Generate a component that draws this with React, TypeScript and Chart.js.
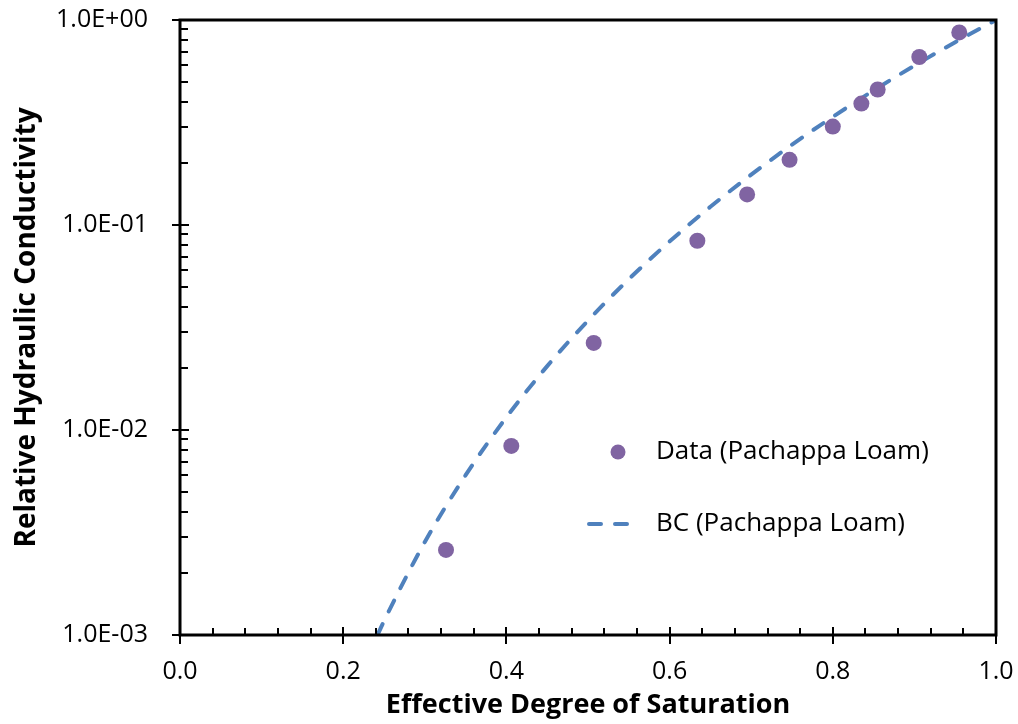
import React, { useEffect, useRef } from "react";
import { Chart, registerables } from "chart.js";

Chart.register(...registerables);

// Measured data (Pachappa Loam)
const dataSe = [0.326, 0.406, 0.507, 0.634, 0.695, 0.747, 0.8, 0.835, 0.855, 0.906, 0.955];
const dataKr = [0.0026, 0.00836, 0.0266, 0.0838, 0.141, 0.208, 0.302, 0.391, 0.458, 0.66, 0.87];

// BC curve (Pachappa Loam)
const bcSe = [0.242, 0.25, 0.3, 0.35, 0.4, 0.45, 0.5, 0.55, 0.6, 0.65, 0.7, 0.75, 0.8, 0.85, 0.9, 0.95, 1.0];
const bcKr = [0.001, 0.00117, 0.00284, 0.00602, 0.01154, 0.0205, 0.0342, 0.0544, 0.0831, 0.1227, 0.176, 0.2464, 0.337, 0.453, 0.599, 0.779, 1.0];

const yTicks = [0.001, 0.01, 0.1, 1];
const yTickLabels = ["1.0E-03", "1.0E-02", "1.0E-01", "1.0E+00"];
const xTicks = [0, 0.2, 0.4, 0.6, 0.8, 1.0];
const xTickLabels = ["0.0", "0.2", "0.4", "0.6", "0.8", "1.0"];

const seriesNames = ["Data (Pachappa Loam)", "BC (Pachappa Loam)"];
const xTitle = "Effective Degree of Saturation";
const yTitle = "Relative Hydraulic Conductivity";

const FONT = "'Open Sans', 'Noto Sans', sans-serif";
const PURPLE = "#8064A2";
const BLUE = "#4F81BD";

const axesPlugin = {
  id: "axesDecor",
  afterDraw(chart: any) {
    const { ctx, chartArea, scales } = chart;
    const { left, right, top, bottom } = chartArea;
    const x = scales.x;
    const y = scales.y;
    ctx.save();
    ctx.strokeStyle = "#000";
    ctx.lineWidth = 2;
    ctx.lineCap = "butt";
    yTicks.forEach((v) => {
      const py = Math.round(y.getPixelForValue(v));
      ctx.beginPath();
      ctx.moveTo(left - 8, py);
      ctx.lineTo(left + 9, py);
      ctx.stroke();
    });
    for (let d = 0; d < yTicks.length - 1; d++) {
      for (let k = 2; k <= 9; k++) {
        const py = Math.round(y.getPixelForValue(yTicks[d] * k));
        ctx.beginPath();
        ctx.moveTo(left, py);
        ctx.lineTo(left + 8, py);
        ctx.stroke();
      }
    }
    xTicks.forEach((v) => {
      const px = Math.round(x.getPixelForValue(v));
      ctx.beginPath();
      ctx.moveTo(px, bottom - 8);
      ctx.lineTo(px, bottom + 9);
      ctx.stroke();
    });
    for (let i = 0; i < xTicks.length - 1; i++) {
      const step = (xTicks[i + 1] - xTicks[i]) / 5;
      for (let k = 1; k < 5; k++) {
        const px = Math.round(x.getPixelForValue(xTicks[i] + step * k));
        ctx.beginPath();
        ctx.moveTo(px, bottom - 7);
        ctx.lineTo(px, bottom);
        ctx.stroke();
      }
    }
    ctx.lineWidth = 3;
    ctx.strokeRect(left, top, right - left, bottom - top);

    // legend
    const ds = chart.data.datasets;
    ctx.font = `26px ${FONT}`;
    ctx.textBaseline = "middle";
    ctx.textAlign = "left";
    ctx.beginPath();
    ctx.arc(618, 452, 7.5, 0, Math.PI * 2);
    ctx.fillStyle = ds[0].backgroundColor;
    ctx.fill();
    ctx.fillStyle = "#000";
    ctx.fillText(ds[0].label, 656, 452);
    ctx.beginPath();
    ctx.strokeStyle = ds[1].borderColor;
    ctx.lineWidth = ds[1].borderWidth;
    ctx.lineCap = "round";
    ctx.setLineDash(ds[1].borderDash);
    ctx.moveTo(589, 524);
    ctx.lineTo(634, 524);
    ctx.stroke();
    ctx.setLineDash([]);
    ctx.fillText(ds[1].label, 656, 524);
    ctx.restore();
  },
};

export default function App() {
  const ref = useRef<HTMLCanvasElement | null>(null);
  useEffect(() => {
    if (!ref.current) return;
    const chart = new Chart(ref.current, {
      type: "scatter",
      data: {
        datasets: [
          {
            label: seriesNames[0],
            data: dataSe.map((v, i) => ({ x: v, y: dataKr[i] })),
            backgroundColor: PURPLE,
            borderColor: PURPLE,
            pointRadius: 8,
            pointBorderWidth: 0,
            showLine: false,
            order: 0,
          },
          {
            label: seriesNames[1],
            type: "line",
            data: bcSe.map((v, i) => ({ x: v, y: bcKr[i] })),
            borderColor: BLUE,
            backgroundColor: BLUE,
            borderWidth: 4,
            borderDash: [12, 14],
            borderCapStyle: "round",
            pointRadius: 0,
            fill: false,
            cubicInterpolationMode: "monotone",
            order: 1,
          } as any,
        ],
      },
      options: {
        responsive: false,
        animation: false,
        layout: { padding: { top: 20, right: 22, left: 0, bottom: 0 } },
        plugins: {
          legend: { display: false },
          tooltip: { enabled: false },
        },
        scales: {
          x: {
            type: "linear",
            min: 0,
            max: 1,
            afterBuildTicks: (s: any) => {
              s.ticks = xTicks.map((v) => ({ value: v }));
            },
            afterFit: (s: any) => {
              s.height = 89;
              s.paddingLeft = 0;
              s.paddingRight = 0;
            },
            grid: { display: false },
            border: { display: false },
            ticks: {
              padding: 14,
              color: "#000",
              font: { family: FONT, size: 25 },
              maxRotation: 0,
              callback: (v: any) => {
                const i = xTicks.findIndex((t) => Math.abs(t - v) < 1e-9);
                return i >= 0 ? xTickLabels[i] : "";
              },
            },
            title: {
              display: true,
              text: xTitle,
              color: "#000",
              font: { family: FONT, size: 27, weight: "bold" },
              padding: { top: 0, bottom: 2 },
            },
          },
          y: {
            type: "logarithmic",
            min: 0.001,
            max: 1,
            afterBuildTicks: (s: any) => {
              s.ticks = yTicks.map((v) => ({ value: v, major: true }));
            },
            afterFit: (s: any) => {
              s.width = 180;
              s.paddingTop = 0;
              s.paddingBottom = 0;
            },
            grid: { display: false },
            border: { display: false },
            ticks: {
              padding: 24,
              color: "#000",
              font: { family: FONT, size: 25 },
              callback: (v: any) => {
                const i = yTicks.findIndex((t) => Math.abs(t - v) / t < 1e-6);
                return i >= 0 ? yTickLabels[i] : "";
              },
            },
            title: {
              display: true,
              text: yTitle,
              color: "#000",
              font: { family: FONT, size: 28, weight: "bold" },
              padding: { top: 10, bottom: 0 },
            },
          },
        },
      },
      plugins: [axesPlugin],
    });
    return () => chart.destroy();
  }, []);
  return (
    <div style={{ position: "fixed", left: 0, top: 0, width: 1018, height: 724, background: "#fff" }}>
      <canvas ref={ref} width={1018} height={724} style={{ width: 1018, height: 724 }} />
    </div>
  );
}
